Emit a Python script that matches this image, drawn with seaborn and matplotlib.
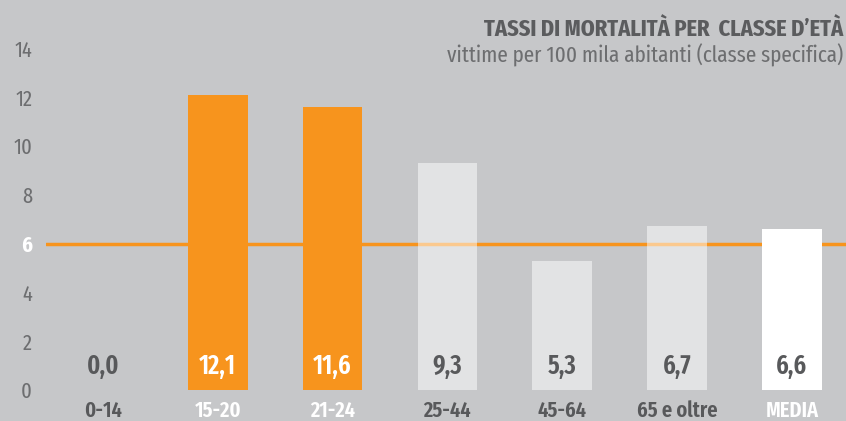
import matplotlib
matplotlib.use("Agg")
import matplotlib.pyplot as plt
import seaborn as sns
import pandas as pd

# dati
classi = ["0-14", "15-20", "21-24", "25-44", "45-64", "65 e oltre", "MEDIA"]
tassi = [0.0, 12.1, 11.6, 9.3, 5.3, 6.7, 6.6]
media_ref = 6
y_ticks = [0, 2, 4, 6, 8, 10, 12, 14]

titolo = "TASSI DI MORTALITÀ PER  CLASSE D\u2019ETÀ"
sottotitolo = "vittime per 100 mila abitanti (classe specifica)"

BG = "#c6c7c9"
ORANGE = "#f7941d"
DARK = "#58595b"
TICK = "#6d6e70"

sns.set_theme(style="white")
plt.rcParams["font.family"] = ["Fira Sans Extra Condensed", "Roboto Condensed", "DejaVu Sans"]

df = pd.DataFrame({"classe": classi, "tasso": tassi})

fig = plt.figure(figsize=(8.46, 4.21), dpi=100, facecolor=BG)
ax = fig.add_axes([46 / 846, 31 / 421, 800 / 846, 390 / 421])
ax.set_facecolor(BG)

sns.barplot(data=df, x="classe", y="tasso", hue="classe", palette=["white"] * len(classi),
            width=0.52, legend=False, ax=ax, zorder=2)

# colori e trasparenze delle barre
stili = [("white", 0.5), (ORANGE, 1), (ORANGE, 1), ("white", 0.5), ("white", 0.5), ("white", 0.5), ("white", 1)]
for patch, (c, a) in zip(ax.patches, stili):
    patch.set_facecolor(c)
    patch.set_alpha(a)
    patch.set_edgecolor("none")

ax.axhline(media_ref, color=ORANGE, linewidth=2.5, zorder=1.5)

# etichette dei valori
col_val = [DARK, "white", "white", DARK, DARK, DARK, DARK]
for i, (v, c) in enumerate(zip(tassi, col_val)):
    ax.text(i, 0.65, f"{v:.1f}".replace(".", ","), ha="center", va="baseline",
            fontsize=19, fontweight="semibold", color=c, zorder=3)

ax.set_xlim(-0.4965, 6.472)
ax.set_ylim(0, 15.98)
ax.set_yticks(y_ticks)
ax.set_yticklabels([str(t) for t in y_ticks])
ax.set_xlabel("")
ax.set_ylabel("")
ax.tick_params(axis="y", length=0, pad=10, labelsize=16, labelcolor=TICK)
ax.tick_params(axis="x", length=0, pad=7, labelsize=16)
for lbl in ax.get_yticklabels():
    if lbl.get_text() == "6":
        lbl.set_color("white")
        lbl.set_fontweight("bold")
col_cat = [DARK, "white", "white", DARK, DARK, DARK, "white"]
for lbl, c in zip(ax.get_xticklabels(), col_cat):
    lbl.set_color(c)
    lbl.set_fontweight("semibold")
    lbl.set_verticalalignment("top")
sns.despine(ax=ax, left=True, bottom=True)

fig.text(843 / 846, 1 - 36 / 421, titolo, ha="right", va="baseline",
         fontsize=17.5, fontweight="bold", color="#5b5c5e")
fig.text(843 / 846, 1 - 63 / 421, sottotitolo, ha="right", va="baseline",
         fontsize=16.5, color=TICK)

fig.savefig("out.png", dpi=100, facecolor=BG)
